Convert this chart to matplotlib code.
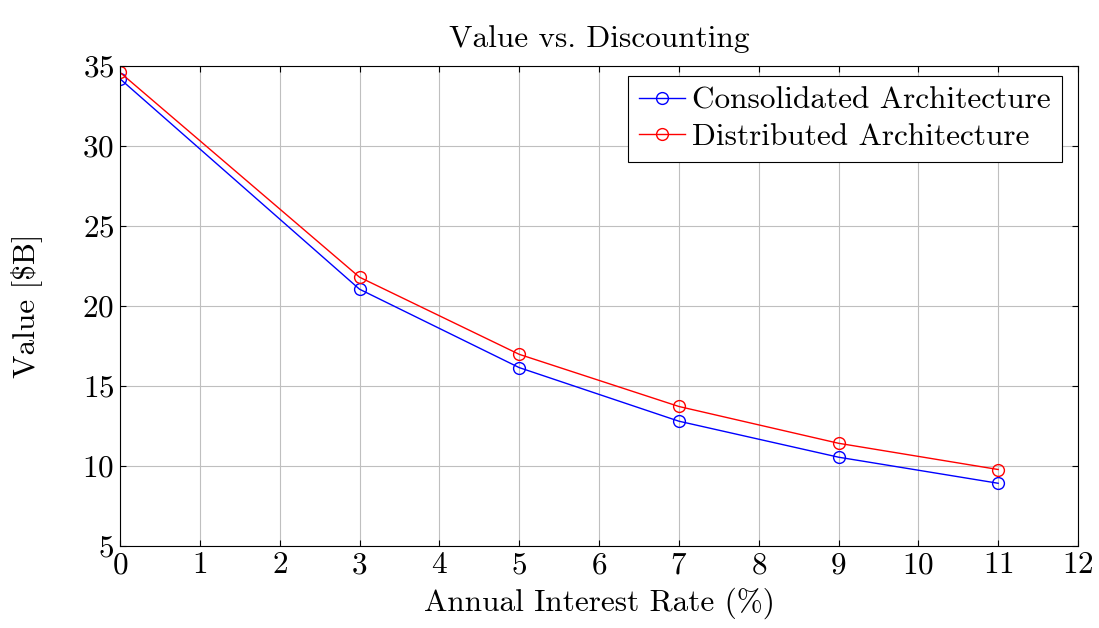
import matplotlib
matplotlib.use("Agg")
import matplotlib.pyplot as plt

plt.rcParams["font.family"] = "serif"
plt.rcParams["font.serif"] = ["cmr10", "DejaVu Serif"]
plt.rcParams["mathtext.fontset"] = "cm"
plt.rcParams["axes.formatter.use_mathtext"] = True

# data
rate = [0, 3, 5, 7, 9, 11]
consolidated = [34.2, 21.05, 16.15, 12.8, 10.55, 8.92]
distributed = [34.6, 21.8, 16.98, 13.72, 11.42, 9.78]

FS = 22.5

fig = plt.figure(figsize=(10.99, 6.28), dpi=100)
ax = fig.add_axes([0.1092, 0.1306, 0.8717, 0.7643])

ax.plot(rate, consolidated, color="blue", lw=1.0, marker="o", ms=8.5,
        mfc="none", mew=1.0, label="Consolidated Architecture")
ax.plot(rate, distributed, color="red", lw=1.0, marker="o", ms=8.5,
        mfc="none", mew=1.0, label="Distributed Architecture")

ax.set_xlim(0, 12)
ax.set_ylim(5, 35)
ax.set_xticks(range(0, 13))
ax.set_yticks(range(5, 36, 5))
ax.grid(True, color="#bfbfbf", lw=0.8)
ax.set_axisbelow(True)
ax.tick_params(direction="in", top=True, right=True, labelsize=FS, length=4,
               pad=4)
for s in ax.spines.values():
    s.set_linewidth(0.8)

ax.set_xlabel("Annual Interest Rate (%)", fontsize=FS, labelpad=6)
ax.set_ylabel(r"Value [\$B]", fontsize=FS, labelpad=29)
ax.set_title("Value vs. Discounting", fontsize=FS, pad=14)

leg = ax.legend(loc="upper right", bbox_to_anchor=(1 - 16 / 958, 1 - 10 / 480),
                fontsize=FS, fancybox=False, framealpha=1,
                edgecolor="black", handlelength=1.45, borderaxespad=0,
                handletextpad=0.25, labelspacing=0.25, borderpad=0.35)
leg.get_frame().set_linewidth(0.8)

fig.savefig("out.png", dpi=100)
